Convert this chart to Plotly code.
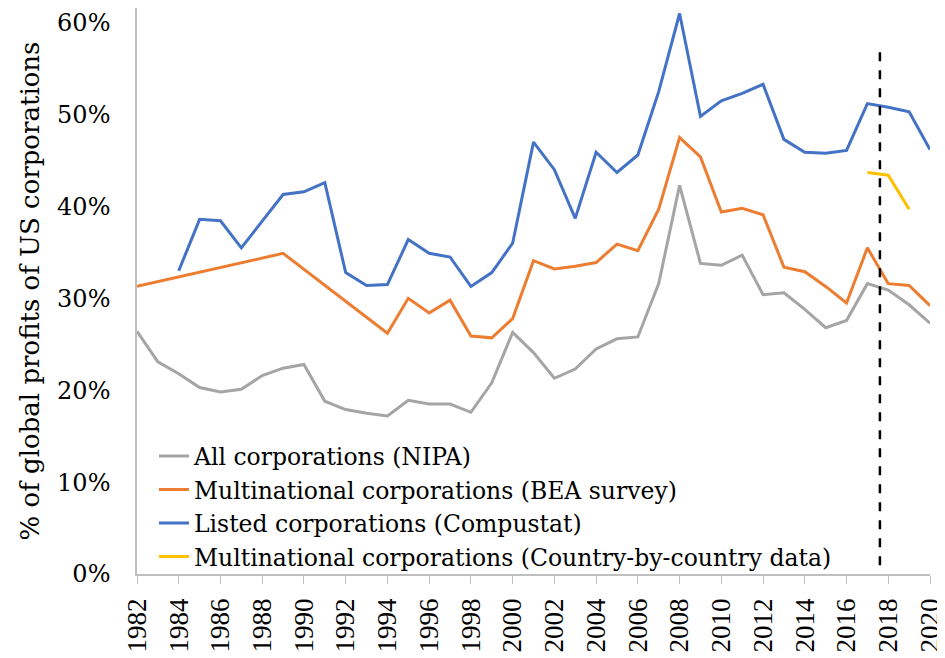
import plotly.graph_objects as go

years = list(range(1982, 2021))

# All corporations (NIPA)
nipa = [26.4, 23.1, 21.8, 20.3, 19.8, 20.1, 21.6, 22.4, 22.8, 18.8,
        17.9, 17.5, 17.2, 18.9, 18.5, 18.5, 17.6, 20.8, 26.3, 24.1,
        21.3, 22.3, 24.5, 25.6, 25.8, 31.6, 42.3, 33.8, 33.6, 34.7,
        30.4, 30.6, 28.8, 26.8, 27.6, 31.6, 30.9, 29.3, 27.3]

# Multinational corporations (BEA survey) - benchmark years before 1994
bea = [31.3, None, None, None, None, None, None, 34.9, None, None,
       None, None, 26.2, 30.0, 28.4, 29.8, 25.9, 25.7, 27.8, 34.1,
       33.2, 33.5, 33.9, 35.9, 35.2, 39.7, 47.5, 45.4, 39.4, 39.8,
       39.1, 33.4, 32.9, 31.3, 29.5, 35.5, 31.6, 31.4, 29.2]

# Listed corporations (Compustat)
compustat = [None, None, 33.0, 38.6, 38.45, 35.5, 38.4, 41.3, 41.6, 42.6,
             32.8, 31.4, 31.5, 36.4, 34.9, 34.5, 31.3, 32.8, 36.0, 47.0,
             44.0, 38.7, 45.9, 43.7, 45.6, 52.5, 61.0, 49.8, 51.5, 52.3,
             53.3, 47.3, 45.9, 45.8, 46.1, 51.2, 50.8, 50.3, 46.2]

# Multinational corporations (Country-by-country data)
cbc_years = [2017, 2018, 2019]
cbc = [43.7, 43.4, 39.7]

series_names = [
    "All corporations (NIPA)",
    "Multinational corporations (BEA survey)",
    "Listed corporations (Compustat)",
    "Multinational corporations (Country-by-country data)",
]
colors = ["#A5A5A5", "#ED7D31", "#4472C4", "#FFC000"]

y_ticks = [0, 0.1, 0.2, 0.3, 0.4, 0.5, 0.6]
y_tick_labels = ["0%", "10%", "20%", "30%", "40%", "50%", "60%"]
x_ticks = list(range(1982, 2021, 2))
x_tick_labels = [str(y) for y in x_ticks]

break_year = 2017.6
break_top = 0.573

def frac(vals):
    return [None if v is None else v / 100 for v in vals]

SERIF = "DejaVu Serif, serif"
TIMES = "Liberation Serif, Times New Roman, serif"

fig = go.Figure()
fig.add_trace(go.Scatter(x=years, y=frac(nipa), name=series_names[0], mode="lines",
                         line=dict(color=colors[0], width=3)))
fig.add_trace(go.Scatter(x=years, y=frac(bea), name=series_names[1], mode="lines",
                         connectgaps=True, line=dict(color=colors[1], width=3)))
fig.add_trace(go.Scatter(x=years, y=frac(compustat), name=series_names[2], mode="lines",
                         line=dict(color=colors[2], width=3)))
fig.add_trace(go.Scatter(x=cbc_years, y=frac(cbc), name=series_names[3], mode="lines",
                         line=dict(color=colors[3], width=3)))

fig.add_shape(type="line", xref="x", yref="y", x0=break_year, x1=break_year,
              y0=-0.01, y1=break_top, line=dict(color="black", width=2.5, dash="dash"),
              layer="above")

# page body has an 8px margin, so the figure is sized to fill the remaining window
fig.update_layout(
    width=937, height=650,
    margin=dict(l=129, r=13, t=0, b=84),
    paper_bgcolor="white", plot_bgcolor="white",
    showlegend=True,
    legend=dict(x=0.0214, y=0.247, xanchor="left", yanchor="top",
                bgcolor="rgba(0,0,0,0)", font=dict(family=SERIF, size=23.5, color="black"),
                tracegroupgap=0, itemwidth=30),
    xaxis=dict(range=[1982, 2020], tickmode="array", tickvals=x_ticks, ticktext=x_tick_labels,
               tickangle=-90, ticks="outside", ticklen=8, tickcolor="#BFBFBF",
               ticklabelstandoff=4, ticklabeloverflow="allow",
               showline=True, linecolor="#BFBFBF", linewidth=1.5, showgrid=False, zeroline=False,
               tickfont=dict(family=TIMES, size=27, color="black")),
    yaxis=dict(range=[0, 0.616], tickmode="array", tickvals=y_ticks, ticktext=y_tick_labels,
               showline=True, linecolor="#BFBFBF", linewidth=1.5, showgrid=False, zeroline=False,
               ticks="", ticklabelstandoff=20,
               tickfont=dict(family=SERIF, size=24, color="black"),
               title=dict(text="% of global profits of US corporations",
                          font=dict(family=SERIF, size=26, color="black"), standoff=10)),
)

fig.write_html("out.html")
